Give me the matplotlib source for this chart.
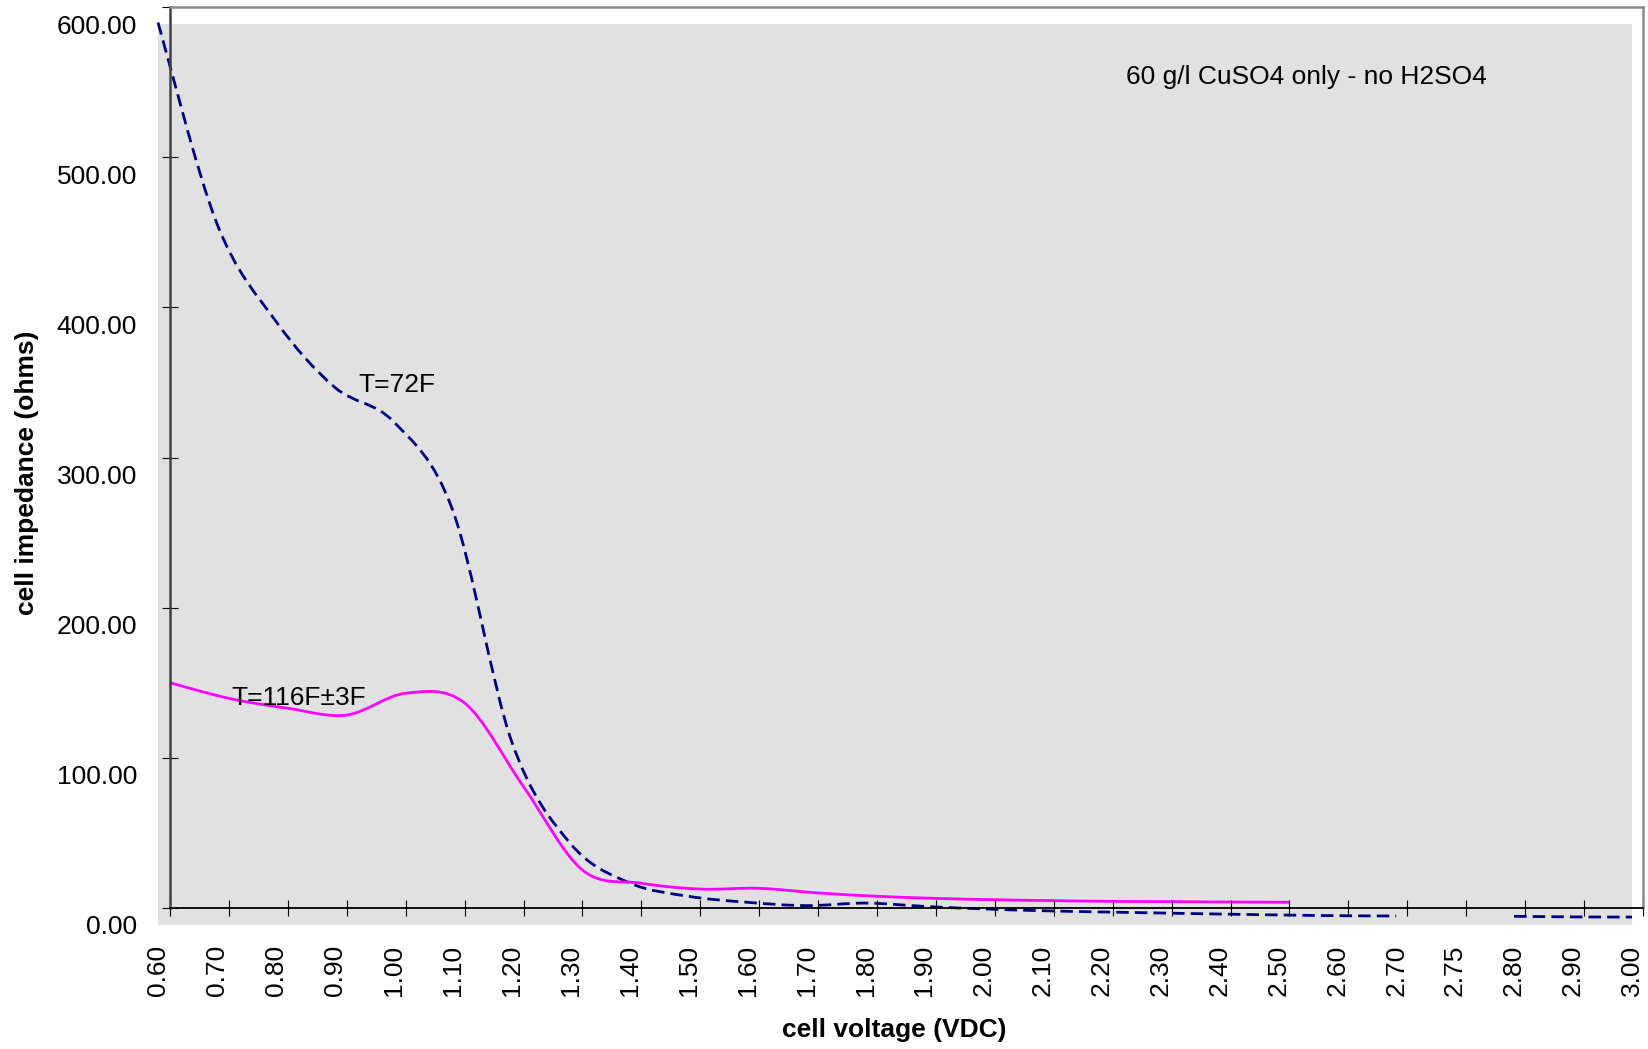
"""
Cell impedance vs cell voltage, 60 g/l CuSO4 only
"""
import numpy as np
import matplotlib.pyplot as plt
from matplotlib.path import Path
from matplotlib.patches import PathPatch

plt.rcParams['font.family'] = ['Liberation Sans', 'DejaVu Sans']

# category axis (equal spacing, as in the original spreadsheet chart)
voltage_labels = ['0.60', '0.70', '0.80', '0.90', '1.00', '1.10', '1.20', '1.30',
                  '1.40', '1.50', '1.60', '1.70', '1.80', '1.90', '2.00', '2.10',
                  '2.20', '2.30', '2.40', '2.50', '2.60', '2.70', '2.75', '2.80',
                  '2.90', '3.00']

# T=72F series (no reading at 2.75)
impedance_72F = [601, 467, 402, 358, 335, 276, 122, 54, 28, 19.1, 15.1, 12.9,
                 14.6, 12.4, 10.7, 9.5, 8.7, 8.0, 7.3, 6.7, 6.2, 6.0, np.nan,
                 5.8, 5.4, 5.3]

# T=116F+-3F series (up to 2.50)
impedance_116F = [150, 139.6, 133, 128.5, 143, 136.5, 80.8, 25.3, 16.5, 12.6,
                  13.1, 10.0, 7.8, 6.4, 5.5, 4.9, 4.4, 4.2, 4.0, 3.8]

y_ticks = [0, 100, 200, 300, 400, 500, 600]
FS = 19


def smooth_path(x, y):
    """Bezier path through the points, like a spreadsheet 'smoothed line'"""
    x = np.asarray(x, dtype=float)
    y = np.asarray(y, dtype=float)
    verts, codes = [], []
    ok = ~np.isnan(y)
    # split into runs of valid points
    runs, start = [], None
    for i, v in enumerate(ok):
        if v and start is None:
            start = i
        if not v and start is not None:
            runs.append((start, i))
            start = None
    if start is not None:
        runs.append((start, len(y)))
    for a, b in runs:
        px, py = x[a:b], y[a:b]
        n = len(px)
        verts.append((px[0], py[0]))
        codes.append(Path.MOVETO)
        for i in range(n - 1):
            i0 = max(i - 1, 0)
            i3 = min(i + 2, n - 1)
            c1 = (px[i] + (px[i + 1] - px[i0]) / 6, py[i] + (py[i + 1] - py[i0]) / 6)
            c2 = (px[i + 1] - (px[i3] - px[i]) / 6, py[i + 1] - (py[i3] - py[i]) / 6)
            verts += [c1, c2, (px[i + 1], py[i + 1])]
            codes += [Path.CURVE4] * 3
    return Path(verts, codes)


W, H = 1648, 1049
fig = plt.figure(figsize=(W / 100, H / 100), dpi=100)

# back wall (grey) - labels belong to this one
wall = fig.add_axes([158 / W, 1 - 925 / H, 1474 / W, 901 / H])
wall.set_facecolor('#e1e1e1')
wall.set_xlim(0, len(voltage_labels) - 1)
wall.set_ylim(0, 600)
for s in wall.spines.values():
    s.set_visible(False)
wall.set_xticks(range(len(voltage_labels)))
wall.set_xticklabels(voltage_labels, rotation=90, fontsize=FS)
wall.set_yticks(y_ticks)
wall.set_yticklabels(['%.2f' % v for v in y_ticks], fontsize=FS)
wall.tick_params(axis='x', length=0, pad=14)
wall.tick_params(axis='y', length=0, pad=15)

cats = np.arange(len(voltage_labels))
p72 = PathPatch(smooth_path(cats, impedance_72F), facecolor='none',
                edgecolor='#000080', lw=2.0, linestyle=(0, (4.5, 2.2)),
                clip_on=False)
wall.add_patch(p72)

# front frame with the axis lines, shifted right/up
front = fig.add_axes([170 / W, 1 - 908 / H, 1473 / W, 901 / H])
front.patch.set_visible(False)
front.set_xlim(0, len(voltage_labels) - 1)
front.set_ylim(0, 600)
front.set_xticks(range(len(voltage_labels)))
front.set_yticks(y_ticks)
front.tick_params(direction='inout', length=11.5, width=0.8, color='black',
                  labelleft=False, labelbottom=False)
front.spines['left'].set_color('#404040')
front.spines['left'].set_linewidth(1.8)
front.spines['bottom'].set_color('black')
front.spines['bottom'].set_linewidth(1.3)
front.spines['top'].set_color('#8a8a8a')
front.spines['top'].set_linewidth(1.8)
front.spines['right'].set_color('#8a8a8a')
front.spines['right'].set_linewidth(1.8)

p116 = PathPatch(smooth_path(np.arange(len(impedance_116F)), impedance_116F),
                 facecolor='none', edgecolor='#ff00ff', lw=2.0)
front.add_patch(p116)

# texts
fig.text(1126 / W, 1 - 77 / H, '60 g/l CuSO4 only - no H2SO4', fontsize=FS,
         va='center', ha='left')
fig.text(358 / W, 1 - 385 / H, 'T=72F', fontsize=FS, va='center', ha='left')
fig.text(231 / W, 1 - 698 / H, 'T=116F\u00b13F', fontsize=FS, va='center', ha='left')
fig.text(27 / W, 1 - 473 / H, 'cell impedance (ohms)', fontsize=FS,
         fontweight='bold', rotation=90, va='center', ha='center')
fig.text(894 / W, 1 - 1030 / H, 'cell voltage (VDC)', fontsize=FS,
         fontweight='bold', va='center', ha='center')

fig.savefig('out.png', dpi=100)
